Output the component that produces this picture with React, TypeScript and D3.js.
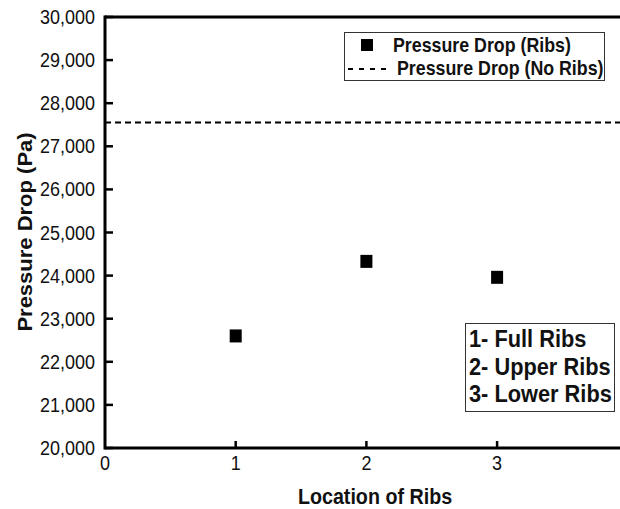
import React from 'react';
import * as d3 from 'd3';

// data
const locations = [1, 2, 3];
const pressureRibs = [22600, 24330, 23960];
const pressureNoRibs = 27550;
const yTicks = [20000, 21000, 22000, 23000, 24000, 25000, 26000, 27000, 28000, 29000, 30000];
const xTicks = [0, 1, 2, 3];
const ribLabels = ['1- Full Ribs', '2- Upper Ribs', '3- Lower Ribs'];
const legendLabels = ['Pressure Drop (Ribs)', 'Pressure Drop (No Ribs)'];

const W = 620, H = 509;
const font = '"Liberation Sans", Arial, Helvetica, sans-serif';
// the source image looks a bit stretched vertically, so text gets a small vertical scale
const sy = 1.12;

function T({ x, y, children, ...rest }: any) {
    return (
        <text transform={`translate(${x},${y}) scale(1,${sy})`} fill="#111" {...rest}>{children}</text>
    );
}

function App() {
    const left = 105, top = 17, bottom = 448;
    const x = d3.scaleLinear().domain([0, 4]).range([left, left + 4 * 130.7]);
    const y = d3.scaleLinear().domain([20000, 30000]).range([bottom, top]);
    const fmt = d3.format(',');
    const sq = 12;

    return (
        <svg width={W} height={H} style={{ position: 'absolute', left: 0, top: 0 }} fontFamily={font}>
            <rect width={W} height={H} fill="#fff" />

            {/* no-ribs reference line */}
            <line x1={left} x2={x(4)} y1={y(pressureNoRibs)} y2={y(pressureNoRibs)}
                stroke="#000" strokeWidth={2} strokeDasharray="6,4" />

            {/* points */}
            {locations.map((d, i) => (
                <rect key={i} x={x(d) - sq / 2} y={y(pressureRibs[i]) - 6.5} width={sq} height={13} fill="#000" />
            ))}

            {/* frame */}
            <line x1={left} x2={x(4) + 2} y1={top} y2={top} stroke="#000" strokeWidth={3} />
            <line x1={left} x2={x(4) + 2} y1={bottom} y2={bottom} stroke="#000" strokeWidth={3} />
            <line x1={left} x2={left} y1={top - 1.5} y2={bottom + 1.5} stroke="#000" strokeWidth={3} />

            {/* y ticks */}
            {yTicks.map(t => (
                <g key={t}>
                    <line x1={left} x2={left + 8} y1={y(t)} y2={y(t)} stroke="#000" strokeWidth={2.5} />
                    <T x={95} y={y(t) + 7} textAnchor="end" fontSize={18}>{fmt(t)}</T>
                </g>
            ))}

            {/* x ticks */}
            {xTicks.map(t => (
                <g key={t}>
                    {t > 0 && <line x1={x(t)} x2={x(t)} y1={bottom} y2={bottom - 7} stroke="#000" strokeWidth={2.5} />}
                    <T x={x(t)} y={470} textAnchor="middle" fontSize={18}>{t}</T>
                </g>
            ))}

            {/* axis titles */}
            <T x={375} y={504} textAnchor="middle" fontSize={19.7} fontWeight="bold">Location of Ribs</T>
            <text transform={`translate(32,232) rotate(-90) scale(1,${1 / sy})`} textAnchor="middle"
                fontSize={22} fontWeight="bold" fill="#111">Pressure Drop (Pa)</text>

            {/* legend */}
            <rect x={344.5} y={32.5} width={260} height={48} fill="#fff" stroke="#333" strokeWidth={1} />
            <rect x={361} y={39} width={12} height={12} fill="#000" />
            <T x={393} y={52} fontSize={17.8} fontWeight="bold">{legendLabels[0]}</T>
            <line x1={348} x2={386} y1={69} y2={69} stroke="#000" strokeWidth={2} strokeDasharray="5,6" />
            <T x={397} y={75} fontSize={17.8} fontWeight="bold">{legendLabels[1]}</T>

            {/* rib location key */}
            <rect x={465.5} y={323.5} width={149} height={88} fill="#fff" stroke="#333" strokeWidth={1} />
            {ribLabels.map((l, i) => (
                <T key={l} x={469} y={347 + i * 27.5} fontSize={21.8} fontWeight="bold">{l}</T>
            ))}
        </svg>
    );
}

export default App;
